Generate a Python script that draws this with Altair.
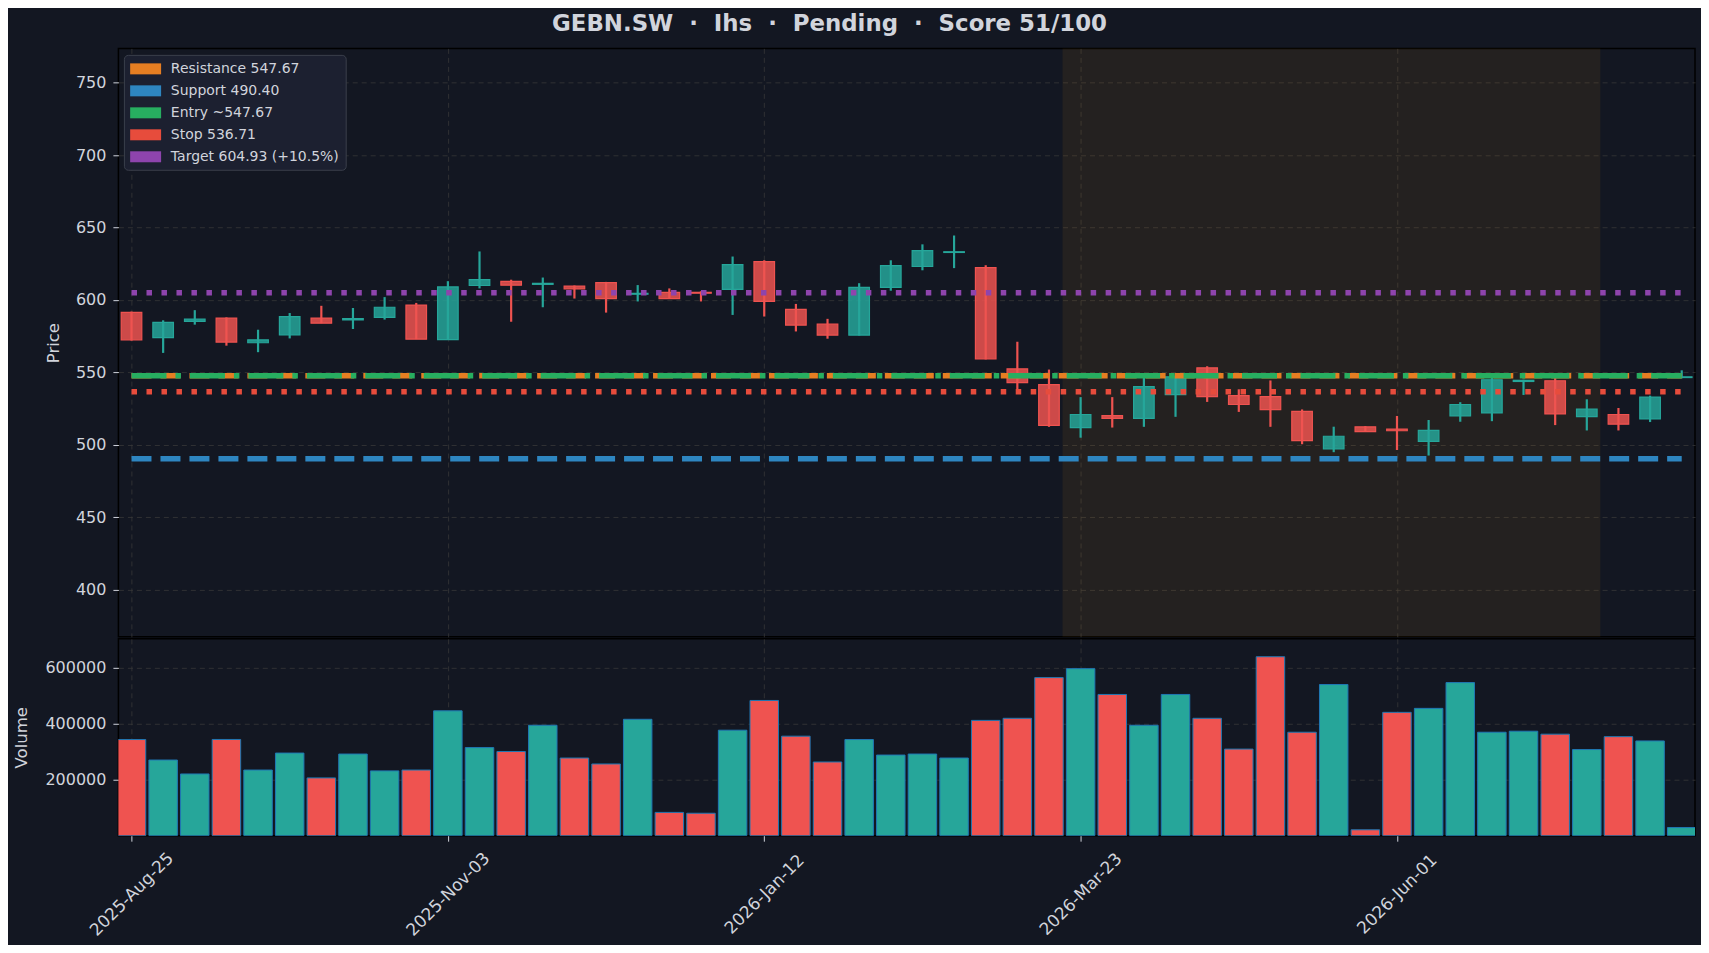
import altair as alt
import pandas as pd

# ---------------- data ----------------
dates = [d.strftime("%Y-%m-%d") for d in pd.date_range("2025-08-25", periods=50, freq="7D")]

opens = [591.5, 574.0, 585.2, 587.5, 570.5, 576.0, 587.5, 586.3, 588.0, 596.5,
         572.6, 610.0, 612.8, 610.8, 609.6, 612.0, 604.0, 605.3, 605.3, 607.3,
         626.5, 593.6, 583.3, 575.8, 608.7, 623.1, 632.8, 622.3, 552.5, 541.6,
         512.0, 520.2, 518.3, 534.7, 553.2, 534.0, 533.3, 523.2, 497.2, 512.5,
         510.9, 502.4, 520.1, 522.1, 543.8, 544.3, 519.5, 521.0, 518.0, 546.5]
highs = [592.0, 586.0, 593.0, 588.0, 579.5, 591.0, 596.0, 594.5, 602.0, 598.0,
         613.0, 633.5, 614.0, 615.5, 610.0, 612.5, 610.3, 608.0, 606.0, 630.0,
         627.4, 597.3, 587.0, 611.6, 627.4, 638.4, 644.5, 624.0, 571.2, 552.0,
         533.0, 533.0, 547.3, 548.6, 554.3, 538.4, 544.5, 524.5, 512.6, 513.0,
         520.0, 517.2, 529.5, 546.3, 545.0, 546.3, 531.5, 525.5, 534.0, 551.5]
lows = [572.0, 563.5, 583.0, 568.5, 564.0, 573.5, 584.0, 580.0, 586.5, 573.0,
        572.5, 608.0, 585.0, 595.0, 601.0, 591.3, 599.0, 601.0, 599.0, 589.7,
        588.6, 578.3, 573.3, 575.5, 606.4, 620.5, 622.0, 559.0, 537.2, 512.5,
        505.0, 512.0, 512.5, 519.4, 529.7, 522.8, 512.5, 500.5, 495.0, 509.0,
        496.5, 492.7, 516.0, 516.4, 534.5, 513.7, 510.0, 510.0, 515.8, 546.0]
closes = [572.5, 584.5, 586.8, 571.0, 572.5, 588.5, 584.0, 587.2, 595.0, 573.0,
          609.0, 614.0, 610.2, 611.5, 607.7, 601.0, 604.6, 601.0, 604.7, 624.4,
          599.0, 582.7, 575.8, 608.7, 623.7, 634.0, 633.3, 559.4, 543.0, 513.5,
          521.0, 518.3, 540.2, 547.0, 533.3, 527.9, 524.4, 503.0, 506.0, 509.2,
          509.8, 510.0, 527.9, 545.0, 544.6, 521.4, 524.8, 514.3, 533.0, 547.0]
volumes = [342700, 269700, 220000, 343000, 234000, 294500, 206000, 291000, 231000, 234000,
           445000, 314000, 300000, 393600, 276800, 255600, 414900, 83000, 80000, 376000,
           482000, 354700, 262700, 342700, 287400, 291000, 276800, 411000, 418400, 563500,
           595400, 503400, 393600, 503400, 418400, 308700, 637900, 368800, 538800, 21000,
           439600, 453800, 545800, 368800, 372400, 361800, 307000, 353000, 337700, 29000]

level_names = ["Resistance 547.67", "Support 490.40", "Entry ~547.67", "Stop 536.71",
               "Target 604.93 (+10.5%)"]
level_values = [547.67, 490.40, 547.67, 536.71, 604.93]

zone_start = "2026-03-19"
zone_end = "2026-07-16"

x_tick_dates = [(2025, 8, 25), (2025, 11, 3), (2026, 1, 12), (2026, 3, 23), (2026, 6, 1)]
price_ticks = [400, 450, 500, 550, 600, 650, 700, 750]
volume_ticks = [200000, 400000, 600000]

title_text = "GEBN.SW\u00a0\u00a0·\u00a0\u00a0Ihs\u00a0\u00a0·\u00a0\u00a0Pending\u00a0\u00a0·\u00a0\u00a0Score 51/100"

# ---------------- styles ----------------
BG = "#131722"
TXT = "#d1d4dc"
UP = "#26a69a"
DOWN = "#ef5350"
level_colors = ["#e67e22", "#2e86c1", "#27ae60", "#e74c3c", "#8e44ad"]
level_dashes = [[20, 9], [20, 9], [35, 9, 5.5, 9], [5.5, 9.5], [5.5, 9.5]]
FONT = "DejaVu Sans"

W = 1578
H_PRICE = 589
H_VOL = 197

df = pd.DataFrame({"date": dates, "open": opens, "high": highs, "low": lows,
                   "close": closes, "volume": volumes})

x_scale = alt.Scale(type="utc", padding=0, nice=False, domain=[
    alt.DateTime(year=2025, month=8, date=22, hours=2, minutes=24, utc=True),
    alt.DateTime(year=2026, month=8, date=5, hours=22, minutes=34, utc=True)])
tick_vals = [alt.DateTime(year=y, month=m, date=d, utc=True) for (y, m, d) in x_tick_dates]

up_cond = alt.datum.close >= alt.datum.open

price_y_scale = alt.Scale(domain=[367.6, 773.6], nice=False, zero=False)

x_price = alt.X("date:T", scale=x_scale,
                axis=alt.Axis(values=tick_vals, labels=False, ticks=False, domain=False,
                              grid=True, title=None))

base = alt.Chart(df)

shade = alt.Chart(pd.DataFrame({"start": [zone_start], "end": [zone_end]})).mark_rect(
    color="#f39c12", opacity=0.08
).encode(x=alt.X("start:T", scale=x_scale), x2="end:T")

wicks = base.mark_rule(strokeWidth=2.2).encode(
    x=x_price,
    y=alt.Y("low:Q", scale=price_y_scale,
            axis=alt.Axis(values=price_ticks, title="Price", titlePadding=14)),
    y2="high:Q",
    color=alt.condition(up_cond, alt.value(UP), alt.value(DOWN)),
)

bodies = base.mark_bar(size=20.6, fillOpacity=0.85, strokeWidth=1.2).encode(
    x=alt.X("date:T", scale=x_scale),
    y=alt.Y("open:Q", scale=price_y_scale),
    y2="close:Q",
    fill=alt.condition(up_cond, alt.value(UP), alt.value(DOWN)),
    stroke=alt.condition(up_cond, alt.value(UP), alt.value(DOWN)),
)

level_layers = []
for name, val, col, dash in zip(level_names, level_values, level_colors, level_dashes):
    ldf = pd.DataFrame({"start": [dates[0]], "end": [dates[-1]], "value": [val]})
    level_layers.append(
        alt.Chart(ldf).mark_rule(color=col, strokeWidth=5.5, strokeDash=dash).encode(
            x=alt.X("start:T", scale=x_scale), x2="end:T",
            y=alt.Y("value:Q", scale=price_y_scale))
    )

legend_df = pd.DataFrame({"name": level_names, "value": level_values})
legend_layer = alt.Chart(legend_df).mark_square(filled=True, opacity=1, size=0).encode(
    y=alt.Y("value:Q", scale=price_y_scale),
    color=alt.Color("name:N",
                    scale=alt.Scale(domain=level_names, range=level_colors),
                    legend=alt.Legend(title=None, orient="none", legendX=5.5, legendY=6.5,
                                      symbolType="M-1,-0.71H3V0.71H-1Z", symbolSize=240,
                                      symbolStrokeWidth=0, symbolOpacity=1,
                                      labelFontSize=14, labelColor=TXT, labelFont=FONT,
                                      labelLimit=400,
                                      fillColor="#1c2030", strokeColor="#3a3f4b",
                                      padding=6, cornerRadius=4, rowPadding=7,
                                      labelOffset=25)),
).transform_filter("false")

price = alt.layer(shade, wicks, bodies, *level_layers, legend_layer).properties(
    width=W, height=H_PRICE)

vol = base.mark_bar(size=28.5, stroke="#1f77b4", strokeWidth=1, clip=True).encode(
    x=alt.X("date:T", scale=x_scale,
            axis=alt.Axis(values=tick_vals, format="%Y-%b-%d", labelAngle=315,
                          labelAlign="center", labelBaseline="middle", labelPadding=53,
                          labelFontSize=17,
                          title=None, grid=True, domain=False, tickSize=5.5)),
    y=alt.Y("volume:Q", scale=alt.Scale(domain=[0, 701600], nice=False),
            axis=alt.Axis(values=volume_ticks, format="d", title="Volume", titlePadding=15)),
    fill=alt.condition(up_cond, alt.value(UP), alt.value(DOWN)),
).properties(width=W, height=H_VOL)

chart = alt.vconcat(price, vol, spacing=0).properties(
    background=BG,
    padding={"left": 4.5, "top": 4, "right": 5, "bottom": 5},
    title=alt.TitleParams(title_text, fontSize=22.9, fontWeight="bold", color=TXT,
                          font=FONT, anchor="middle", offset=12, dx=-25),
).configure_view(
    fill=BG, stroke="#000000", strokeWidth=1.5
).configure_axis(
    labelColor=TXT, titleColor=TXT, tickColor=TXT, labelFont=FONT, titleFont=FONT,
    labelFontSize=16, titleFontSize=16.5, titleFontWeight="normal",
    gridColor="#3a3a3a", gridDash=[5, 4], gridOpacity=0.75, gridWidth=1,
    tickSize=5.5, labelPadding=7, domain=False,
).configure_legend(labelFont=FONT)

chart.save("out.html", embed_options={"renderer": "svg", "actions": False})
